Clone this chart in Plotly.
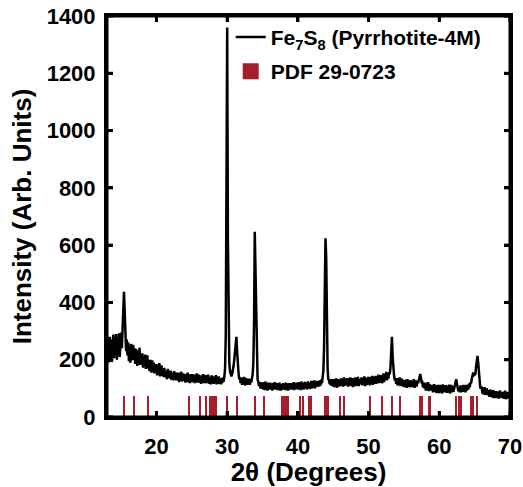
import plotly.graph_objects as go

# ---- XRD pattern (2theta step 0.1 deg, 13.0 .. 70.0) ----
two_theta_start = 13.0
two_theta_step = 0.1
intensity_rows = [
    [285, 195, 262, 190, 280, 215, 270, 192, 250, 288],  # 13
    [205, 275, 225, 290, 200, 270, 232, 292, 210, 265],  # 14
    [295, 240, 300, 340, 437, 370, 285, 230, 270, 215],  # 15
    [260, 195, 245, 190, 255, 215, 198, 252, 205, 240],  # 16
    [185, 238, 200, 178, 232, 190, 242, 182, 222, 195],  # 17
    [222, 172, 205, 178, 218, 168, 205, 215, 170, 200],  # 18
    [160, 200, 172, 155, 198, 165, 190, 152, 185, 162],  # 19
    [185, 145, 172, 150, 188, 142, 168, 180, 144, 165],  # 20
    [140, 172, 138, 162, 148, 132, 168, 140, 160, 135],  # 21
    [162, 130, 155, 138, 128, 160, 136, 152, 128, 155],  # 22
    [130, 155, 122, 150, 132, 158, 124, 145, 152, 126],  # 23
    [150, 120, 145, 128, 155, 122, 142, 118, 150, 130],  # 24
    [122, 150, 126, 145, 118, 148, 128, 152, 120, 142],  # 25
    [148, 120, 140, 116, 145, 125, 150, 118, 138, 146],  # 26
    [118, 146, 124, 148, 116, 140, 126, 114, 145, 122],  # 27
    [142, 116, 138, 120, 146, 114, 136, 120, 142, 116],  # 28
    [136, 114, 132, 118, 138, 124, 142, 170, 290, 760],  # 29
    [1360, 620, 280, 190, 160, 150, 142, 150, 160, 178],  # 30
    [200, 235, 270, 280, 230, 175, 155, 132, 138, 118],  # 31
    [138, 112, 132, 116, 140, 110, 130, 136, 112, 128],  # 32
    [115, 134, 112, 132, 120, 138, 150, 190, 330, 647],  # 33
    [520, 260, 165, 130, 124, 108, 122, 100, 116, 98],  # 34
    [122, 96, 116, 94, 124, 100, 115, 92, 120, 100],  # 35
    [96, 120, 100, 116, 92, 118, 100, 122, 96, 114],  # 36
    [118, 94, 112, 96, 120, 92, 115, 98, 96, 118],  # 37
    [100, 116, 94, 120, 98, 114, 92, 118, 100, 96],  # 38
    [118, 96, 114, 98, 122, 94, 116, 98, 120, 100],  # 39
    [96, 122, 100, 116, 94, 124, 100, 118, 96, 116],  # 40
    [122, 100, 118, 96, 124, 104, 120, 98, 116, 126],  # 41
    [100, 124, 106, 128, 100, 122, 104, 126, 108, 124],  # 42
    [106, 128, 110, 130, 118, 138, 160, 240, 400, 624],  # 43
    [560, 260, 170, 132, 128, 114, 132, 110, 128, 108],  # 44
    [132, 104, 128, 108, 135, 102, 126, 132, 106, 128],  # 45
    [108, 135, 112, 132, 106, 138, 114, 110, 134, 112],  # 46
    [136, 106, 130, 112, 138, 108, 128, 136, 104, 132],  # 47
    [110, 138, 108, 134, 112, 140, 108, 132, 114, 136],  # 48
    [138, 110, 134, 114, 142, 108, 136, 116, 112, 140],  # 49
    [114, 140, 110, 138, 118, 144, 112, 136, 140, 116],  # 50
    [144, 116, 140, 120, 148, 118, 142, 122, 146, 118],  # 51
    [126, 152, 122, 150, 130, 158, 128, 152, 134, 156],  # 52
    [150, 175, 245, 280, 210, 160, 145, 128, 134, 116],  # 53
    [136, 110, 132, 112, 138, 108, 130, 134, 108, 128],  # 54
    [104, 130, 108, 126, 102, 132, 108, 128, 104, 124],  # 55
    [128, 104, 126, 108, 132, 102, 124, 128, 106, 126],  # 56
    [118, 134, 142, 150, 138, 118, 120, 104, 120, 100],  # 57
    [120, 92, 116, 96, 122, 90, 116, 94, 112, 92],  # 58
    [112, 86, 108, 114, 88, 110, 84, 106, 112, 90],  # 59
    [84, 112, 88, 108, 82, 114, 88, 110, 86, 106],  # 60
    [110, 84, 108, 88, 113, 82, 106, 112, 86, 108],  # 61
    [88, 108, 110, 122, 132, 115, 106, 90, 104, 86],  # 62
    [110, 86, 108, 90, 112, 88, 110, 86, 112, 92],  # 63
    [112, 96, 116, 104, 120, 118, 134, 142, 155, 146],  # 64
    [148, 150, 175, 205, 213, 190, 150, 124, 100, 102],  # 65
    [106, 82, 100, 78, 104, 84, 78, 100, 82, 76],  # 66
    [94, 70, 96, 72, 90, 68, 94, 72, 66, 90],  # 67
    [66, 90, 70, 88, 64, 86, 92, 68, 84, 66],  # 68
    [88, 64, 84, 92, 62, 82, 88, 64, 86, 68],  # 69
    [75],  # 70
]

# ---- Reference pattern PDF 29-0723 (stick positions, 2theta) ----
ref_positions = [15.42, 16.79, 18.87, 24.61, 26.22, 27.07, 27.64, 27.92, 28.15,
                 28.49, 29.99, 31.36, 33.90, 35.18, 37.82, 38.05, 38.33, 38.57,
                 40.27, 40.74, 41.58, 41.87, 43.80, 44.04, 44.27, 45.93, 46.49,
                 50.17, 51.87, 53.38, 54.51, 57.34, 57.62, 58.52, 58.76, 62.33,
                 62.76, 63.14, 64.55, 64.78, 65.40]
ref_heights = [75, 75, 75, 75, 75, 75, 75, 75, 75, 75, 75, 75, 75, 75, 75, 75,
               75, 75, 75, 75, 75, 75, 75, 75, 75, 75, 75, 75, 75, 75, 75, 75,
               75, 75, 75, 75, 75, 75, 75, 75, 75]

x_ticks = [20, 30, 40, 50, 60, 70]
y_ticks = [0, 200, 400, 600, 800, 1000, 1200, 1400]

intensity = [v for row in intensity_rows for v in row]
two_theta = [round(two_theta_start + i * two_theta_step, 2) for i in range(len(intensity))]

RED = "#a61d2d"
FONT = "Liberation Sans, Arial, sans-serif"

fig = go.Figure()
fig.add_trace(go.Scatter(
    x=two_theta, y=intensity, mode="lines",
    line=dict(color="black", width=2.5),
    name="Fe<sub>7</sub>S<sub>8</sub> (Pyrrhotite-4M)",
    legendgroup="a",
))
fig.add_trace(go.Bar(
    x=ref_positions, y=ref_heights, width=0.2,
    marker=dict(color=RED, line=dict(width=0)),
    name="PDF 29-0723", showlegend=False, legendgroup="b",
))
# legend entry for the stick pattern (big square swatch)
fig.add_trace(go.Scatter(
    x=[None], y=[None], mode="markers",
    marker=dict(symbol="square", color=RED, size=16),
    name="PDF 29-0723", legendgroup="b",
))

axis_common = dict(
    showline=True, linecolor="black", linewidth=3, mirror="ticks",
    ticks="inside", ticklen=6, tickwidth=3, tickcolor="black",
    showgrid=False, zeroline=False, automargin=False,
    tickfont=dict(family=FONT, size=22, color="black", weight="bold"),
)

fig.update_layout(
    width=523, height=487,
    margin=dict(l=107, r=13, t=16, b=70),
    paper_bgcolor="white", plot_bgcolor="white",
    showlegend=True,
    legend=dict(
        x=0.307, y=0.998, xanchor="left", yanchor="top",
        bgcolor="rgba(0,0,0,0)",
        font=dict(family=FONT, size=21, color="black", weight="bold"),
        itemsizing="trace", tracegroupgap=4, traceorder="grouped",
    ),
    xaxis=dict(
        range=[13, 70], tickvals=x_ticks,
        title=dict(text="2θ (Degrees)", standoff=8,
                   font=dict(family=FONT, size=26, color="black", weight="bold")),
        ticklabelstandoff=8,
        **axis_common,
    ),
    yaxis=dict(
        range=[0, 1400], tickvals=y_ticks,
        title=dict(text="Intensity (Arb. Units)", standoff=8,
                   font=dict(family=FONT, size=26, color="black", weight="bold")),
        ticklabelstandoff=4,
        **axis_common,
    ),
    bargap=0,
)

# frame and inside tick marks as shapes (positioned through the axes' scales)
fig.add_shape(type="rect", xref="paper", yref="paper", x0=0, x1=1, y0=0, y1=1,
              line=dict(color="black", width=3), layer="above")
TICK_FRAC_Y = 6 / 401
TICK_FRAC_X = 6 / 403
for xv in x_ticks:
    fig.add_shape(type="line", xref="x", yref="paper", x0=xv, x1=xv,
                  y0=0, y1=TICK_FRAC_Y, line=dict(color="black", width=3), layer="above")
    fig.add_shape(type="line", xref="x", yref="paper", x0=xv, x1=xv,
                  y0=1 - TICK_FRAC_Y, y1=1, line=dict(color="black", width=3), layer="above")
for yv in y_ticks:
    fig.add_shape(type="line", xref="paper", yref="y", x0=0, x1=TICK_FRAC_X,
                  y0=yv, y1=yv, line=dict(color="black", width=3), layer="above")
    fig.add_shape(type="line", xref="paper", yref="y", x0=1 - TICK_FRAC_X, x1=1,
                  y0=yv, y1=yv, line=dict(color="black", width=3), layer="above")

fig.write_html(
    "out.html",
    config={"displayModeBar": False},
    post_script="document.body.style.margin='0';document.body.style.overflow='hidden';",
)
